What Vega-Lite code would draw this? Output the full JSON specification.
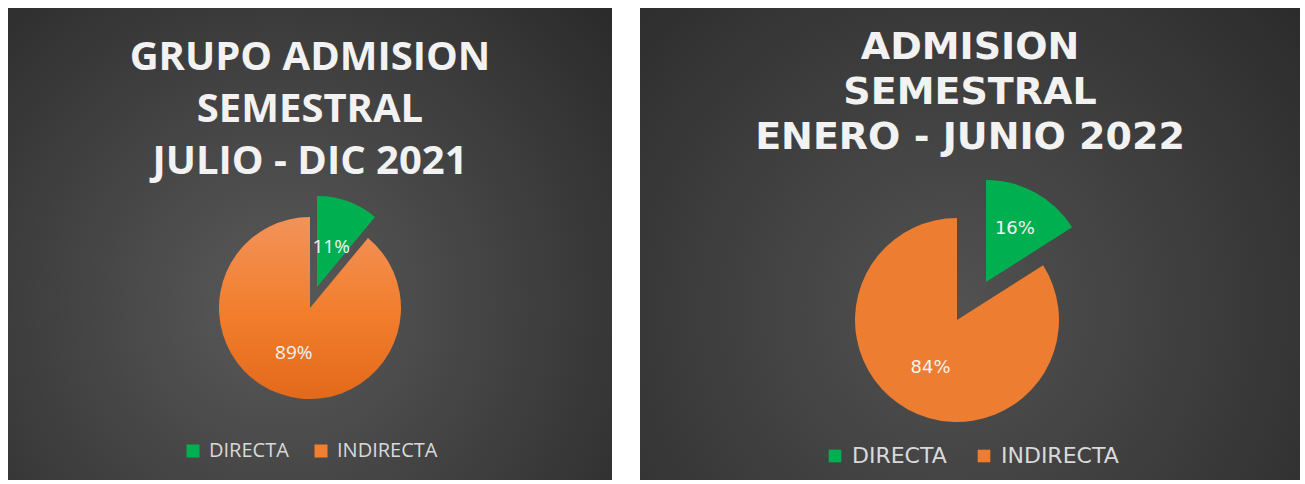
{
  "$schema": "https://vega.github.io/schema/vega-lite/v6.json",
  "background": "white",
  "padding": {"left": 8, "top": 8, "right": 5, "bottom": 4},
  "spacing": 28,
  "config": {"view": {"stroke": null}},
  "resolve": {"scale": {"color": "independent", "theta": "independent"}, "legend": {"color": "independent"}},
  "hconcat": [
    {
      "width": 604,
      "height": 472,
      "view": {"stroke": null, "fill": {"gradient": "radial", "x1": 0.45, "y1": 0.6, "r1": 0, "x2": 0.45, "y2": 0.6, "r2": 0.8, "stops": [{"offset": 0, "color": "#5a5a5a"}, {"offset": 1, "color": "#262626"}]}},
      "title": {"text": ["GRUPO ADMISION", "SEMESTRAL", "JULIO - DIC 2021"], "font": "Open Sans", "fontSize": 40, "fontWeight": "bold", "color": "#f2f2f2", "lineHeight": 52, "anchor": "middle", "baseline": "top", "offset": -174},
      "data": {"values": [{"tipo": "DIRECTA", "pct": 0.11}, {"tipo": "INDIRECTA", "pct": 0.89}]},
      "encoding": {
        "theta": {"field": "pct", "type": "quantitative", "stack": true},
        "detail": {"field": "tipo", "type": "nominal"}
      },
      "layer": [
        {
          "mark": {"type": "arc", "outerRadius": 91, "yOffset": 64, "fill": {"gradient": "linear", "x1": 0, "y1": 0, "x2": 0, "y2": 1, "stops": [{"offset": 0, "color": "#f2935a"}, {"offset": 0.5, "color": "#f27f2f"}, {"offset": 1, "color": "#e4691a"}]}},
          "encoding": {"fillOpacity": {"condition": {"test": "datum.tipo === 'DIRECTA'", "value": 0}, "value": 1}}
        },
        {
          "mark": {"type": "arc", "outerRadius": 91, "xOffset": 7, "yOffset": 43},
          "encoding": {
            "color": {"field": "tipo", "type": "nominal", "scale": {"domain": ["DIRECTA", "INDIRECTA"], "range": ["#00b050", "#f07f30"]},
              "legend": {"orient": "none", "legendX": 175, "legendY": 433, "direction": "horizontal", "title": null, "symbolType": "square", "symbolSize": 170, "symbolStrokeWidth": 0, "labelFont": "Open Sans", "labelFontSize": 20, "labelColor": "#d9d9d9", "labelOffset": 6, "columnPadding": 22}},
            "fillOpacity": {"condition": {"test": "datum.tipo === 'INDIRECTA'", "value": 0}, "value": 1}
          }
        },
        {
          "mark": {"type": "text", "radius": 48, "yOffset": 64, "font": "Open Sans", "fontSize": 19, "color": "#f2f2f2"},
          "encoding": {"text": {"condition": {"test": "datum.tipo === 'INDIRECTA'", "field": "pct", "format": ".0%"}, "value": ""}}
        },
        {
          "mark": {"type": "text", "radius": 42, "xOffset": 7, "yOffset": 43, "font": "Open Sans", "fontSize": 19, "color": "#f2f2f2"},
          "encoding": {"text": {"condition": {"test": "datum.tipo === 'DIRECTA'", "field": "pct", "format": ".0%"}, "value": ""}}
        }
      ]
    },
    {
      "width": 660,
      "height": 472,
      "view": {"stroke": null, "fill": {"gradient": "radial", "x1": 0.47, "y1": 0.6, "r1": 0, "x2": 0.47, "y2": 0.6, "r2": 0.8, "stops": [{"offset": 0, "color": "#525252"}, {"offset": 1, "color": "#262626"}]}},
      "title": {"text": ["ADMISION", "SEMESTRAL", "ENERO - JUNIO 2022"], "font": "DejaVu Sans", "fontSize": 38, "fontWeight": "bold", "color": "#f2f2f2", "lineHeight": 45, "anchor": "middle", "baseline": "top", "offset": -149},
      "data": {"values": [{"tipo": "DIRECTA", "pct": 0.16}, {"tipo": "INDIRECTA", "pct": 0.84}]},
      "encoding": {
        "theta": {"field": "pct", "type": "quantitative", "stack": true},
        "detail": {"field": "tipo", "type": "nominal"}
      },
      "layer": [
        {
          "mark": {"type": "arc", "outerRadius": 102, "xOffset": -13, "yOffset": 76, "fill": "#ed7d31"},
          "encoding": {"fillOpacity": {"condition": {"test": "datum.tipo === 'DIRECTA'", "value": 0}, "value": 1}}
        },
        {
          "mark": {"type": "arc", "outerRadius": 102, "xOffset": 16, "yOffset": 38},
          "encoding": {
            "color": {"field": "tipo", "type": "nominal", "scale": {"domain": ["DIRECTA", "INDIRECTA"], "range": ["#00b050", "#ed7d31"]},
              "legend": {"orient": "none", "legendX": 184, "legendY": 437, "direction": "horizontal", "title": null, "symbolType": "square", "symbolSize": 160, "symbolStrokeWidth": 0, "labelFont": "DejaVu Sans", "labelFontSize": 22, "labelColor": "#d9d9d9", "labelOffset": 6, "columnPadding": 26}},
            "fillOpacity": {"condition": {"test": "datum.tipo === 'INDIRECTA'", "value": 0}, "value": 1}
          }
        },
        {
          "mark": {"type": "text", "radius": 55, "xOffset": -13, "yOffset": 76, "font": "DejaVu Sans", "fontSize": 18, "color": "#f2f2f2"},
          "encoding": {"text": {"condition": {"test": "datum.tipo === 'INDIRECTA'", "field": "pct", "format": ".0%"}, "value": ""}}
        },
        {
          "mark": {"type": "text", "radius": 60, "xOffset": 16, "yOffset": 38, "font": "DejaVu Sans", "fontSize": 18, "color": "#f2f2f2"},
          "encoding": {"text": {"condition": {"test": "datum.tipo === 'DIRECTA'", "field": "pct", "format": ".0%"}, "value": ""}}
        }
      ]
    }
  ]
}
